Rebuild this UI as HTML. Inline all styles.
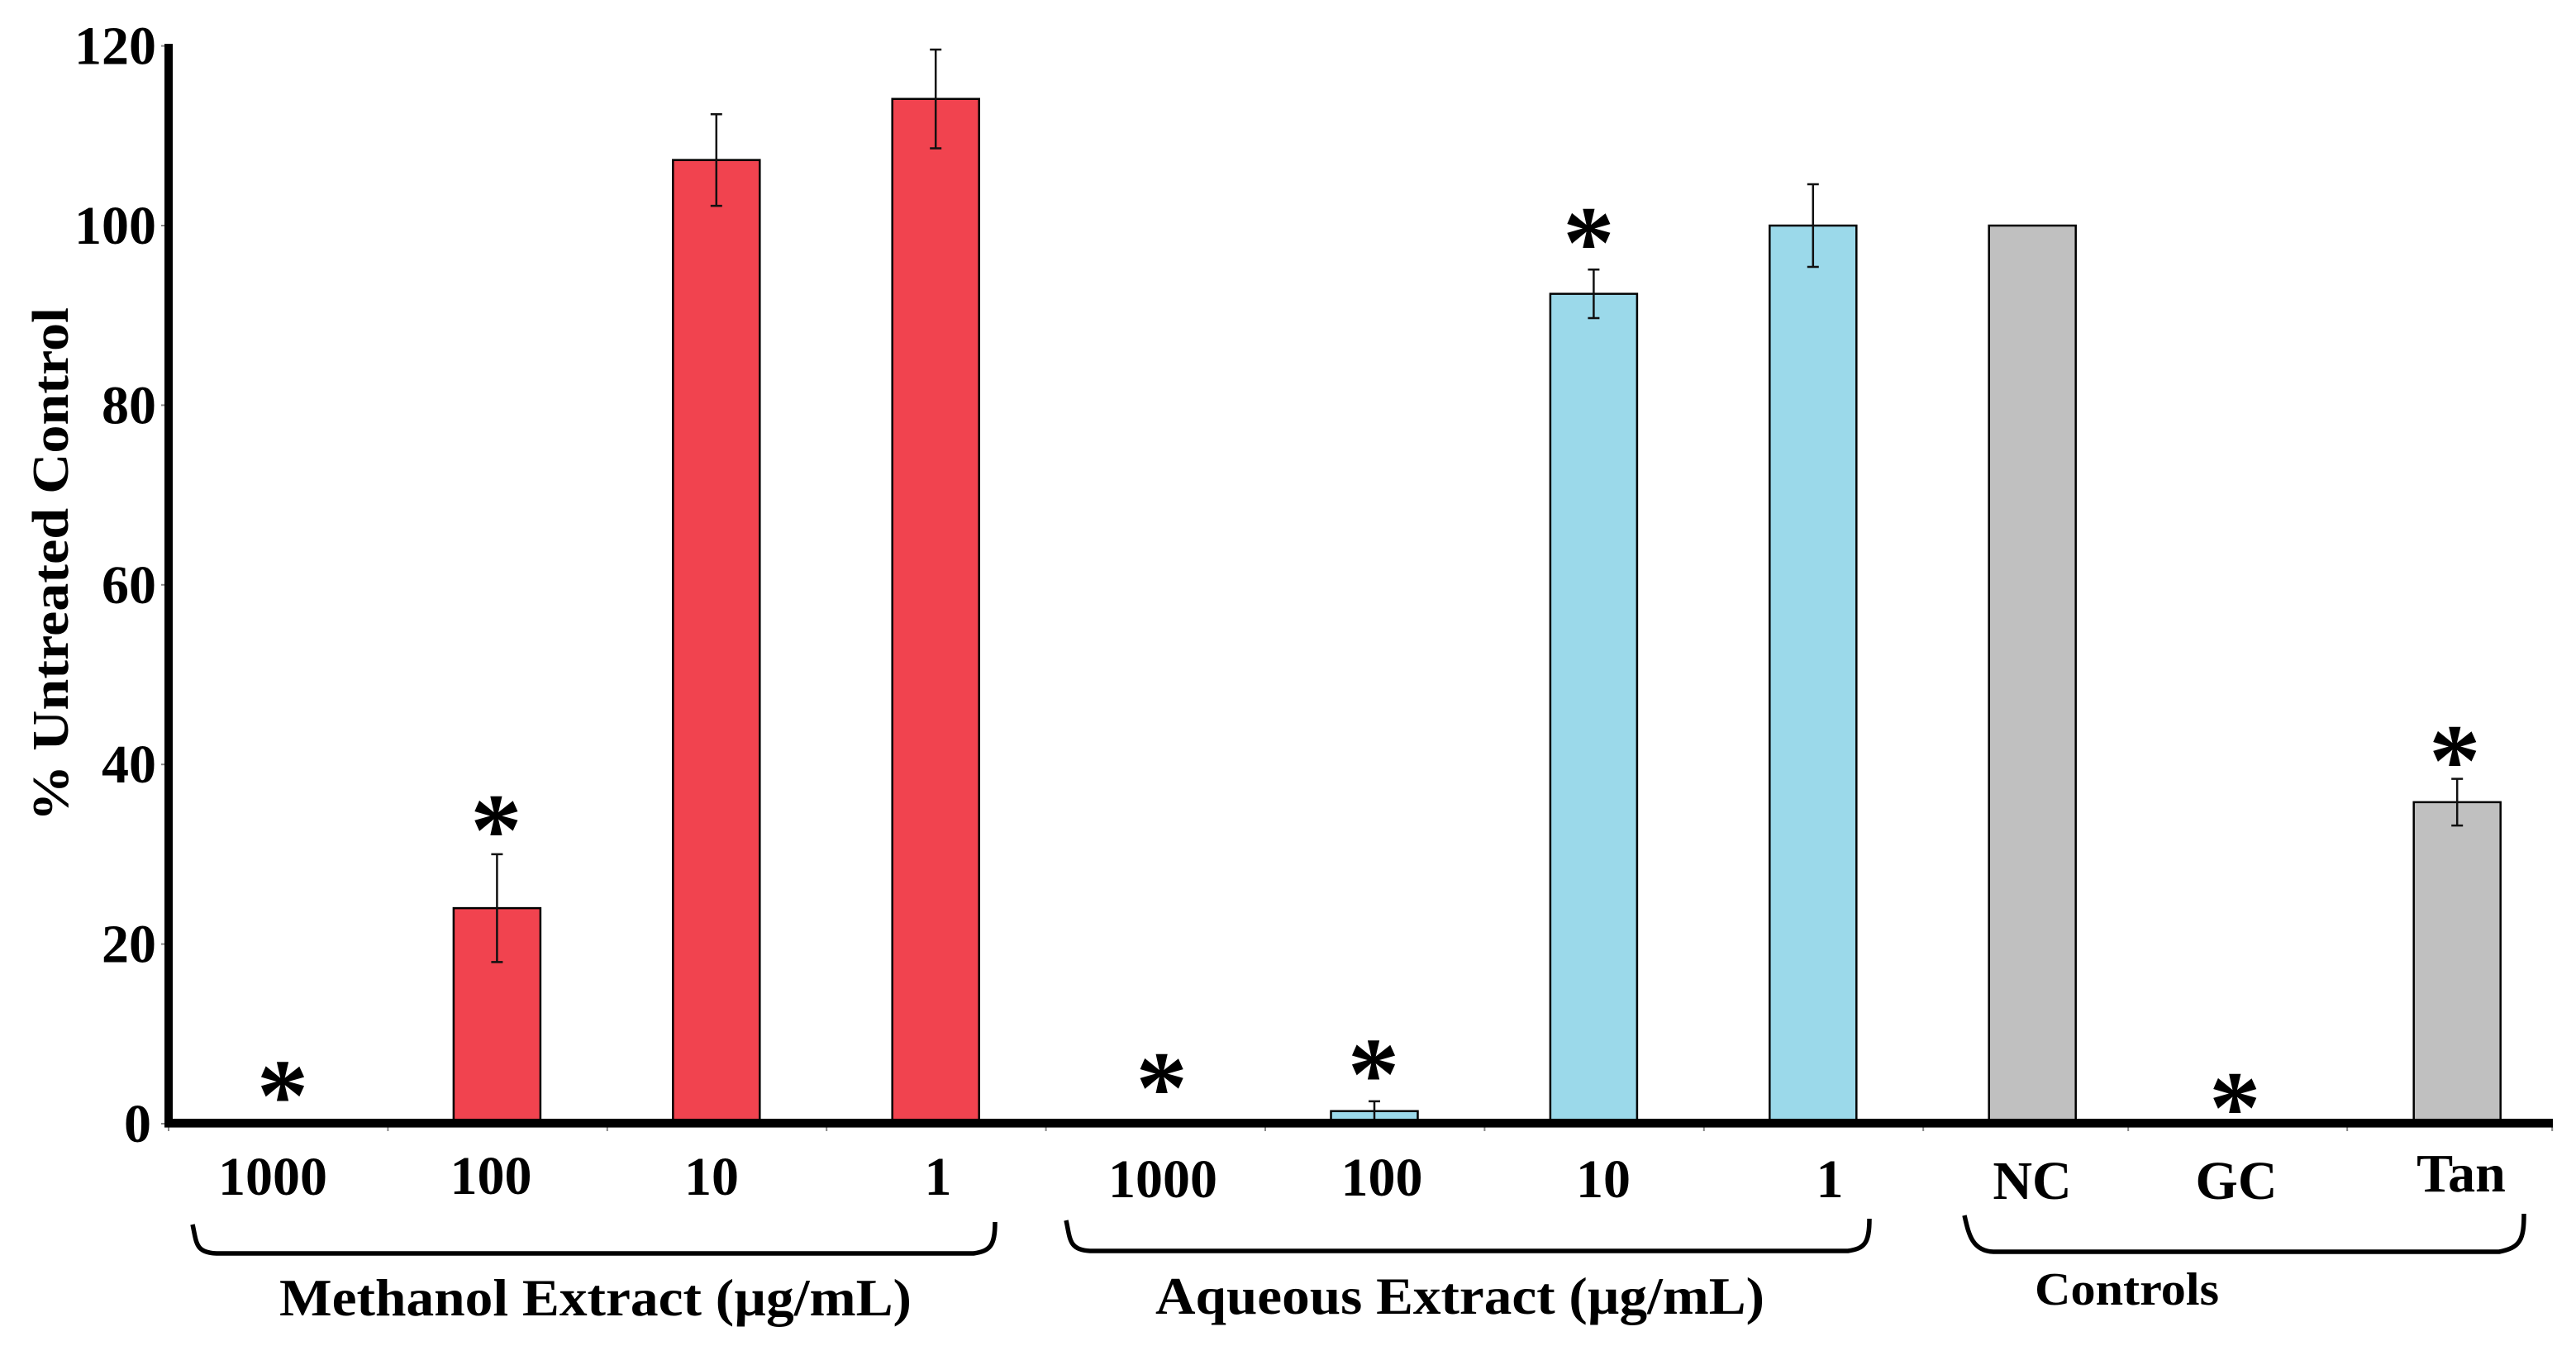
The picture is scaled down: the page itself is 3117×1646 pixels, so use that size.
<!DOCTYPE html>
<html lang="en">
<head>
<meta charset="utf-8">
<title>% Untreated Control bar chart</title>
<style>
html,body{margin:0;padding:0;background:#fff;width:3117px;height:1646px;overflow:hidden}
svg{display:block}
text{font-family:"Liberation Serif",serif;font-weight:bold;fill:#000}
</style>
</head>
<body>
<svg id="chart" width="3117" height="1646" viewBox="0 0 3117 1646" xmlns="http://www.w3.org/2000/svg">
  <rect x="0" y="0" width="3117" height="1646" fill="#fff"/>
  <g id="ticks"></g>
  <g id="bars"></g>
  <g id="errors"></g>
  <rect x="199" y="53" width="10" height="1311" fill="#000"/>
  <rect x="199" y="1354" width="2890" height="10.6" fill="#000"/>
  <g id="ylabels"></g>
  <g id="stars"></g>
  <text transform="translate(82,994) rotate(-90)" font-size="62" textLength="622" lengthAdjust="spacingAndGlyphs">% Untreated Control</text>

  <g font-size="66" text-anchor="middle">
    <text x="330" y="1446">1000</text>
    <text x="594" y="1445">100</text>
    <text x="861" y="1446">10</text>
    <text x="1135" y="1446">1</text>
    <text x="1407" y="1449">1000</text>
    <text x="1672" y="1447">100</text>
    <text x="1940" y="1449">10</text>
    <text x="2214" y="1449">1</text>
    <text x="2459" y="1451">NC</text>
    <text x="2706" y="1451">GC</text>
    <text x="2978" y="1442">Tan</text>
  </g>

  <g fill="none" stroke="#000" stroke-width="5.5">
    <path d="M233 1482 C238 1504 236 1516 262 1517 L1178 1517 C1198 1514 1204 1508 1204 1479"/>
    <path d="M1290 1477 C1295 1499 1293 1513 1319 1514 L2236 1514 C2256 1511 2262 1505 2262 1475"/>
    <path d="M2377 1471 C2382 1493 2386 1514 2412 1515 L3024 1515 C3050 1510 3054 1500 3054 1469"/>
  </g>

  <text x="338" y="1592" font-size="64" textLength="765" lengthAdjust="spacingAndGlyphs">Methanol Extract (µg/mL)</text>
  <text x="1398" y="1590" font-size="64" textLength="737" lengthAdjust="spacingAndGlyphs">Aqueous Extract (µg/mL)</text>
  <text x="2462" y="1579" font-size="56" textLength="223" lengthAdjust="spacingAndGlyphs">Controls</text>
</svg>

<script>
const categories = ["M-1000","M-100","M-10","M-1","A-1000","A-100","A-10","A-1","NC","GC","Tan"];
const values = [0, 24, 107.3, 114.1, 0, 1.4, 92.4, 100, 100, 0, 35.8];
const errors = [0, 6, 5.1, 5.5, 0, 1.1, 2.7, 4.6, 0, 0, 2.6];
const colorGroups = ["methanol","methanol","methanol","methanol","aqueous","aqueous","aqueous","aqueous","control","control","control"];
const starLevels = [4.4, 34, null, null, 5.3, 6.8, 99.4, null, null, 3.1, 41.7];
const yTicks = [0, 20, 40, 60, 80, 100, 120];

const groupFill = {methanol:"#F1434F", aqueous:"#9BD9EA", control:"#C0C0C0"};
const SVG_NS = "http://www.w3.org/2000/svg";
const BAR_WIDTH = 105;
const Y_ZERO = 1360;
const Y_UNIT = 10.87;
const STEP = 265.4;
const starNudge = {"M-1000":6, "M-100":-1, "A-1000":8, "A-100":-1, "A-10":-6, "GC":-12, "Tan":-3};
const controlTickGaps = [0, 248, 513, 761];

function yScale(v){ return Y_ZERO - v * Y_UNIT; }
function xCenter(i){
  if (i <= 8) return 336 + i * STEP;
  return 336 + 8 * STEP + (i - 8) * 257;
}
function xEdge(i){
  if (i <= 8) return 204 + i * STEP;
  return 204 + 8 * STEP + controlTickGaps[i - 8];
}
function make(tag, attrs, parent){
  const el = document.createElementNS(SVG_NS, tag);
  Object.keys(attrs).forEach(function(k){ el.setAttribute(k, attrs[k]); });
  parent.appendChild(el);
  return el;
}

const barsG = document.getElementById("bars");
const errorsG = document.getElementById("errors");
const starsG = document.getElementById("stars");
const ticksG = document.getElementById("ticks");
const ylabelsG = document.getElementById("ylabels");

categories.forEach(function(cat, i){
  const cx = xCenter(i);
  if (values[i] > 0) {
    const bar = make("rect", {x: cx - BAR_WIDTH / 2, y: yScale(values[i]), width: BAR_WIDTH, height: Y_ZERO - yScale(values[i]), fill: groupFill[colorGroups[i]], stroke: "#000", "stroke-width": 2.5}, barsG);
    
    
  }
  if (errors[i] > 0) {
    const top = yScale(values[i] + errors[i]);
    const bottom = yScale(values[i] - errors[i]);
    const err = make("path", {d: "M" + (cx - 7) + " " + top + "H" + (cx + 7) + "M" + cx + " " + top + "V" + bottom + "M" + (cx - 7) + " " + bottom + "H" + (cx + 7), fill: "none", stroke: "#111", "stroke-width": 2.5}, errorsG);
    
    
  }
  if (starLevels[i] !== null) {
    const star = make("text", {x: cx + (starNudge[cat] || 0), y: yScale(starLevels[i]) + 56, "font-size": 125, "text-anchor": "middle"}, starsG);
    star.textContent = "*";
    
    
  }
});

for (let i = 0; i <= categories.length; i++) {
  const tx = make("line", {x1: xEdge(i), x2: xEdge(i), y1: 1360, y2: 1369, stroke: "#888", "stroke-width": 2}, ticksG);
  
  
}

yTicks.forEach(function(t){
  const ty = make("line", {x1: 195, x2: 202, y1: yScale(t), y2: yScale(t), stroke: "#888", "stroke-width": 2}, ticksG);
  
  
  const lab = make("text", {x: t === 0 ? 183 : 189, y: yScale(t) + 22, "font-size": 66, "text-anchor": "end"}, ylabelsG);
  lab.textContent = String(t);
  
  
});
</script>
</body>
</html>
